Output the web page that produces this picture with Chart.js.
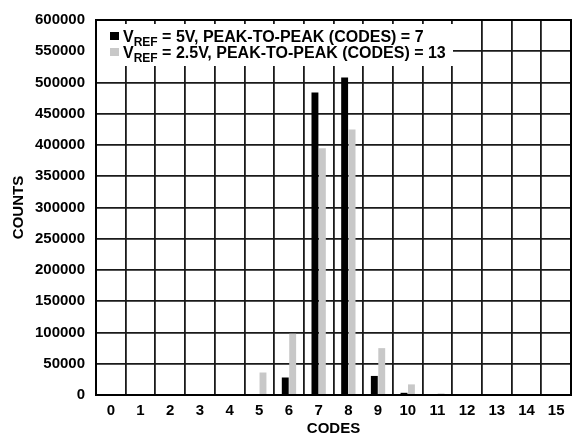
<!DOCTYPE html>
<html>
<head>
<meta charset="utf-8">
<script src="https://cdn.jsdelivr.net/npm/chart.js@4"></script>
<style>
  html, body { margin: 0; padding: 0; background: #fff; }
  #wrap { width: 573px; height: 446px; }
</style>
</head>
<body>
<div id="wrap"><canvas id="histChart" width="573" height="446"></canvas></div>
<script>
const codes = ['0','1','2','3','4','5','6','7','8','9','10','11','12','13','14','15'];
const counts5V = [0, 0, 0, 0, 0, 1000, 28000, 484000, 508000, 30500, 3500, 0, 0, 0, 0, 0];
const counts25V = [0, 0, 0, 0, 1000, 36000, 98000, 395000, 425000, 75000, 17000, 2500, 0, 0, 0, 0];
const legendItems = [
  { color: '#000000', vref: '5V', pp: '7' },
  { color: '#c8c8c8', vref: '2.5V', pp: '13' }
];

const FONT = '"Liberation Sans", Arial, sans-serif';

// legend inside plot with white box + subscript REF
const legendBox = {
  id: 'legendBox',
  beforeDatasetsDraw(chart) {
    const ctx = chart.ctx;
    const a = chart.chartArea;
    ctx.save();
    ctx.fillStyle = '#fff';
    ctx.fillRect(a.left + 1, 24, 452 - a.left, 42);
    legendItems.forEach((it, i) => {
      const base = 42 + i * 16;
      ctx.fillStyle = it.color;
      ctx.fillRect(110, base - 10, 9, 8);
      ctx.fillStyle = '#000';
      ctx.textBaseline = 'alphabetic';
      ctx.font = 'bold 16px ' + FONT;
      let x = 123;
      ctx.fillText('V', x, base);
      x += ctx.measureText('V').width;
      ctx.font = 'bold 12px ' + FONT;
      ctx.fillText('REF', x, base + 4);
      x += ctx.measureText('REF').width;
      ctx.font = 'bold 16px ' + FONT;
      ctx.fillText(' = ' + it.vref + ', PEAK-TO-PEAK (CODES) = ' + it.pp, x, base);
    });
    ctx.restore();
  },
  afterDraw(chart) {
    const ctx = chart.ctx;
    const a = chart.chartArea;
    ctx.save();
    ctx.strokeStyle = '#000';
    ctx.lineWidth = 2;
    ctx.strokeRect(a.left, a.top, a.right - a.left, a.bottom - a.top);
    ctx.restore();
  }
};

new Chart(document.getElementById('histChart').getContext('2d'), {
  type: 'bar',
  data: {
    labels: codes,
    datasets: [
      {
        label: 'VREF = 5V',
        data: counts5V,
        backgroundColor: '#000000',
        categoryPercentage: 0.5,
        barPercentage: 0.93
      },
      {
        label: 'VREF = 2.5V',
        data: counts25V,
        backgroundColor: '#c8c8c8',
        categoryPercentage: 0.5,
        barPercentage: 0.93
      }
    ]
  },
  options: {
    responsive: false,
    animation: false,
    devicePixelRatio: 1,
    layout: { padding: { top: 15, right: 2, left: 0, bottom: 0 } },
    plugins: {
      legend: { display: false },
      tooltip: { enabled: false }
    },
    scales: {
      x: {
        afterFit: (s) => { s.height = 51; },
        grid: { color: '#1a1a1a', lineWidth: 1.8, drawTicks: false, offset: true },
        border: { display: false },
        ticks: { color: '#000', padding: 7, font: { family: FONT, size: 15, weight: 'bold' } },
        title: {
          display: true, text: 'CODES', color: '#000',
          font: { family: FONT, size: 15, weight: 'bold' },
          padding: { top: 0, bottom: 8 }
        }
      },
      y: {
        min: 0,
        max: 600000,
        afterFit: (s) => { s.width = 96; },
        grid: { color: '#1a1a1a', lineWidth: 1.8, drawTicks: false },
        border: { display: false },
        ticks: {
          stepSize: 50000, color: '#000', padding: 11,
          font: { family: FONT, size: 15, weight: 'bold' },
          callback: (v) => String(v)
        },
        title: {
          display: true, text: 'COUNTS', color: '#000',
          font: { family: FONT, size: 15, weight: 'bold' },
          padding: { top: 10, bottom: 0 }
        }
      }
    }
  },
  plugins: [legendBox]
});
</script>
</body>
</html>
